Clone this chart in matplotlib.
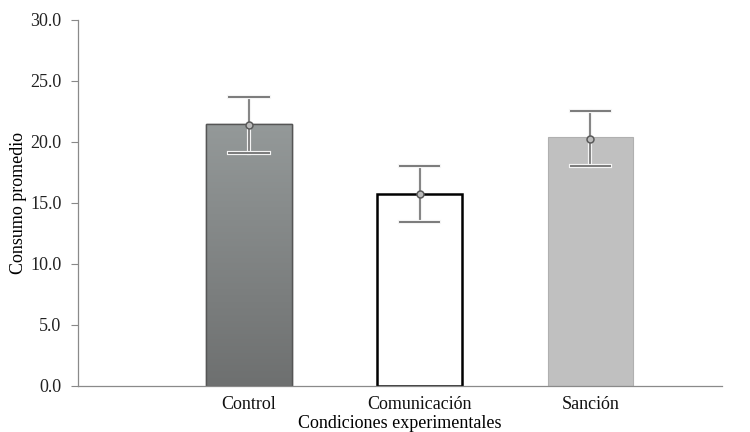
import matplotlib
matplotlib.use("Agg")
import matplotlib.pyplot as plt
import matplotlib.patheffects as pe
import numpy as np

categories = ["Control", "Comunicación", "Sanción"]
bar_values = [21.5, 15.7, 20.4]
mean_points = [21.4, 15.7, 20.2]
err_upper = [23.7, 18.0, 22.5]
err_lower = [19.1, 13.4, 18.0]
yticks = [0, 5, 10, 15, 20, 25, 30]

plt.rcParams['font.family'] = ['Liberation Serif', 'DejaVu Serif']
FS = 13

fig = plt.figure(figsize=(7.5, 4.32), dpi=100)
ax = fig.add_axes([0.104, 0.1065, 0.859, 0.8475])

x = np.arange(len(categories))
colors = ["#808383", "white", "#c0c0c0"]
edges = ["#555555", "black", "#b0b0b0"]
lws = [1.0, 1.8, 0.8]
bars = ax.bar(x, bar_values, width=0.5, color=colors, edgecolor=edges, linewidth=lws, zorder=2)

# gradient for the control bar
b = bars[0]
grad = np.linspace(0, 1, 100).reshape(-1, 1)
im = ax.imshow(grad, extent=[b.get_x(), b.get_x() + b.get_width(), 0, b.get_height()],
               cmap=matplotlib.colors.LinearSegmentedColormap.from_list("g", ["#6e7070", "#949999"]),
               aspect="auto", origin="lower", zorder=2.1)
im.set_clip_path(b)
ax.bar([x[0]], [bar_values[0]], width=0.5, color="none", edgecolor="#555555", linewidth=1.0, zorder=2.2)

halo = [pe.withStroke(linewidth=3.0, foreground="#f4f4f4")]
for xi, m, lo, hi in zip(x, mean_points, err_lower, err_upper):
    ln, = ax.plot([xi, xi], [lo, hi], color="#707070", lw=1.2, zorder=3)
    ln.set_path_effects(halo)
    for yv in (lo, hi):
        c, = ax.plot([xi - 0.115, xi + 0.115], [yv, yv], color="#7a7a7a", lw=1.4, zorder=3)
        c.set_path_effects(halo)
    mk, = ax.plot([xi], [m], marker="o", ms=5, mfc="#bbbbbb", mec="#5a5a5a", mew=1.1, zorder=4)

ax.set_xlim(-1.003, 2.774)
ax.set_ylim(0, 30)
ax.set_yticks(yticks)
ax.set_yticklabels([f"{v:.1f}" for v in yticks], fontsize=FS, color="#222222")
ax.set_xticks(x)
ax.set_xticklabels(categories, fontsize=FS, color="#111111")
ax.tick_params(axis="x", length=0, pad=7)
ax.tick_params(axis="y", length=5, width=0.8, color="#888888", pad=7)
for s in ["top", "right"]:
    ax.spines[s].set_visible(False)
for s in ["left", "bottom"]:
    ax.spines[s].set_color("#8a8a8a")
    ax.spines[s].set_linewidth(0.9)

ax.set_ylabel("Consumo promedio", fontsize=FS, labelpad=2)
ax.set_xlabel("Condiciones experimentales", fontsize=FS, labelpad=1.5)

fig.savefig("out.png", dpi=100)
